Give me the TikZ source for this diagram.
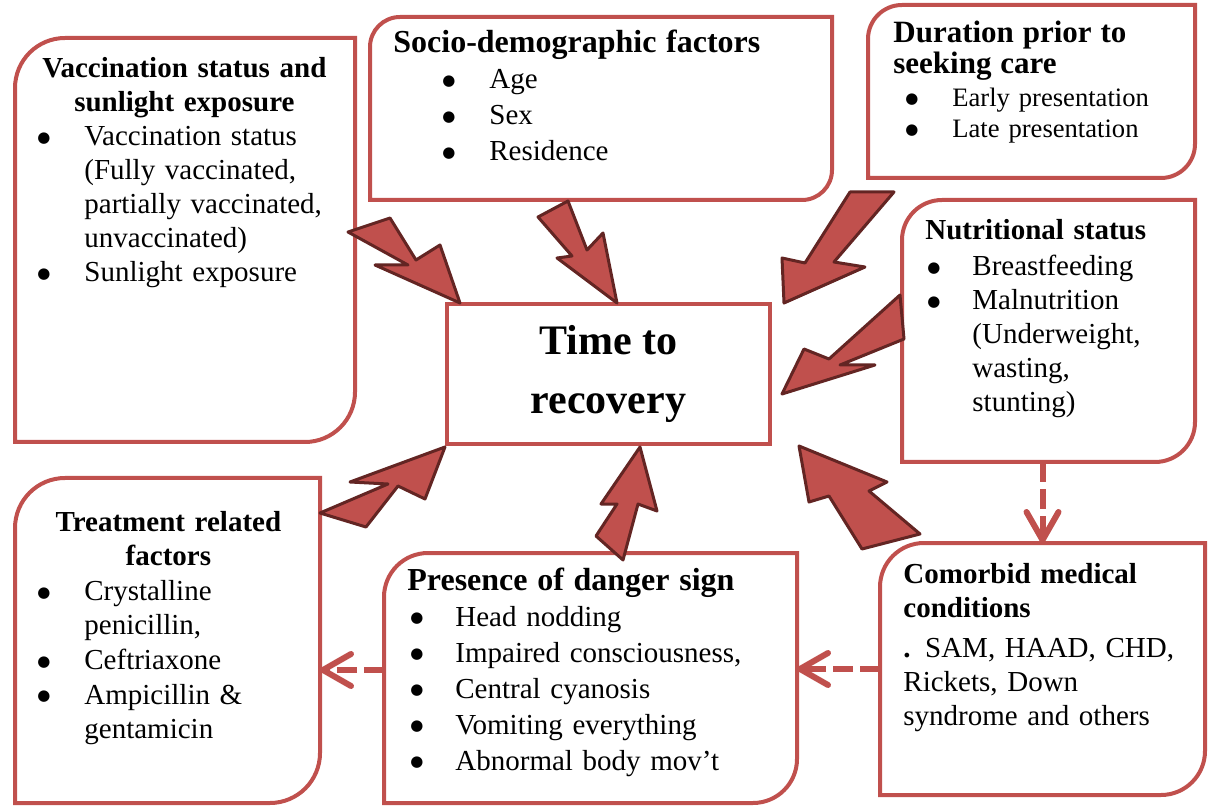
\documentclass[tikz,border=0pt]{standalone}
\usepackage{fontspec}
\setmainfont{Liberation Serif}
\newfontfamily\dotfont{DejaVu Sans}
\usetikzlibrary{arrows.meta,positioning}
\definecolor{BoxRed}{HTML}{C0504D}
\definecolor{ArrowDark}{HTML}{632523}
\newcommand\bul[1][23.5pt]{\makebox[#1][l]{\raisebox{1.6pt}{\dotfont\fontsize{7.5}{7.5}\selectfont ●}}}
\newcommand\ind[1][23.5pt]{\hspace*{#1}}
\tikzset{
  factorbox/.style={
    rectangle,
    inner sep=0pt,
    outer sep=0pt
  },
  boxline/.style={
    draw=BoxRed,
    line width=2pt
  },
  hubbox/.style={
    draw=BoxRed,
    line width=2pt,
    minimum width=161.5pt,
    minimum height=70pt,
    align=center,
    font=\fontsize{21}{29.5}\selectfont\bfseries
  },
  factortext/.style={
    anchor=base west,
    inner sep=0pt,
    align=left,
    font=\fontsize{14.5}{17}\selectfont
  },
  bigarrow/.style={
    fill=BoxRed,
    draw=ArrowDark,
    line width=1.5pt,
    line join=round
  },
  dasharrow/.style={
    -{Straight Barb[length=14pt,width=16pt,round]},
    draw=BoxRed,
    line width=3pt,
    dash pattern=on 10pt off 3.5pt
  }
}

\begin{document}
\begin{tikzpicture}[x=0.5pt, y=-0.5pt]
\useasboundingbox (0,0) rectangle (1210,807);

\node[factorbox, minimum width=170pt, minimum height=202pt] (vacc) at (185,240) {};
\node[factorbox, minimum width=231pt, minimum height=91.5pt] (socio) at (601,108.5) {};
\node[factorbox, minimum width=163.5pt, minimum height=86.5pt] (durat) at (1031.5,91.5) {};
\node[factorbox, minimum width=146.5pt, minimum height=131pt] (nutri) at (1048.5,331) {};
\node[factorbox, minimum width=152.5pt, minimum height=162.5pt] (treat) at (167.5,640.5) {};
\node[factorbox, minimum width=206.5pt, minimum height=125pt] (danger) at (590.5,678) {};
\node[factorbox, minimum width=162.5pt, minimum height=126pt] (comorb) at (1042.5,669) {};
\node[hubbox] (hub) at (608.5,374) {Time to\\recovery};

\foreach \b/\r in {vacc/25pt, socio/15pt, durat/17pt, nutri/20pt, treat/25pt, danger/22pt, comorb/22pt}
  \draw[boxline] ([yshift=-\r]\b.north west) arc[start angle=180, end angle=90, radius=\r]
    -- (\b.north east) -- ([yshift=\r]\b.south east) arc[start angle=0, end angle=-90, radius=\r]
    -- (\b.south west) -- cycle;

\node[factortext, text width=147pt] (vacctext) at (37,78) {%
\makebox[\linewidth]{\bfseries Vaccination status and}\\
\makebox[\linewidth]{\bfseries sunlight exposure}\\
\bul Vaccination status\\
\ind(Fully vaccinated,\\
\ind partially vaccinated,\\
\ind unvaccinated)\\
\bul Sunlight exposure};

\node[factortext, text width=220pt, font=\fontsize{14.5}{18}\selectfont] (sociotext) at (393,53) {%
{\fontsize{16}{18}\selectfont\bfseries Socio-demographic factors}\\
\ind[24.5pt]\bul Age\\
\ind[24.5pt]\bul Sex\\
\ind[24.5pt]\bul Residence};

\node[factortext, text width=150pt, font=\fontsize{13.3}{15.5}\selectfont] (durattext) at (893,43) {%
{\fontsize{15.5}{15.5}\selectfont\bfseries Duration prior to}\\
{\fontsize{15.5}{15.5}\selectfont\bfseries seeking care}\\[1pt]
\ind[6pt]\bul Early presentation\\
\ind[6pt]\bul Late presentation};

\node[factortext, text width=135pt] (nutritext) at (925,240) {%
\textbf{Nutritional status}\\[1pt]
\ind[1pt]\bul[22.5pt]Breastfeeding\\
\ind[1pt]\bul[22.5pt]Malnutrition\\
\ind(Underweight,\\
\ind wasting,\\
\ind stunting)};

\node[factortext, text width=131pt, font=\fontsize{14.5}{17.3}\selectfont] (treattext) at (37,531) {%
\makebox[\linewidth]{\bfseries Treatment related}\\
\makebox[\linewidth]{\bfseries factors}\\
\bul Crystalline\\
\ind penicillin,\\
\bul Ceftriaxone\\
\bul Ampicillin \&\\
\ind gentamicin};

\node[factortext, text width=200pt, font=\fontsize{14.5}{18}\selectfont] (dangertext) at (407,590) {%
{\fontsize{16}{18}\selectfont\bfseries Presence of danger sign}\\
\ind[1.5pt]\bul[22.5pt]Head nodding\\
\ind[1.5pt]\bul[22.5pt]Impaired consciousness,\\
\ind[1.5pt]\bul[22.5pt]Central cyanosis\\
\ind[1.5pt]\bul[22.5pt]Vomiting everything\\
\ind[1.5pt]\bul[22.5pt]Abnormal body mov’t};

\node[factortext, text width=150pt] (comorbtext) at (903,583) {%
\textbf{Comorbid medical}\\
\textbf{conditions}\\[3pt]
{\bfseries .} SAM, HAAD, CHD,\\
Rickets, Down\\
syndrome and others};

\draw[bigarrow, shift={(hub.north west)}] (-97,-70) -- (-55,-84) -- (-29,-42) -- (-5,-57) -- (15,1) -- (-70,-37) -- (-37,-37) -- cycle;
\draw[bigarrow, shift={(hub.north)}] (-70.5,-85) -- (-40.5,-101) -- (-21.5,-52) -- (-5.5,-69) -- (8.5,1) -- (-51.5,-44) -- (-36.5,-46) -- cycle;
\draw[bigarrow, shift={(hub.north east)}] (78,-110) -- (122,-110) -- (62,-40) -- (93,-35) -- (12,1) -- (10,-44) -- (33,-39) -- cycle;
\draw[bigarrow, shift={(hub.east)}] (128,-79) -- (57,-15) -- (32,-25) -- (10,20) -- (103,-9) -- (68,-9) -- (132,-35) -- cycle;
\draw[bigarrow, shift={(hub.south east)}] (27,0) -- (115,36) -- (97,45) -- (148,88) -- (90,103) -- (57,50) -- (37,56) -- cycle;
\draw[bigarrow, shift={(hub.south west)}] (0,1) -- (-20,53) -- (-47,40) -- (-79,81) -- (-125,67) -- (-57,38) -- (-95,36) -- cycle;
\draw[bigarrow, shift={(hub.south)}] (-12.5,90) -- (8.5,58) -- (-7.5,58) -- (31.5,1) -- (48.5,65) -- (29.5,58) -- (14.5,114) -- cycle;

\draw[dasharrow] (comorb.north |- nutri.south) -- (comorb.north);
\draw[dasharrow] (comorb.west) -- (comorb.west -| danger.east);
\draw[dasharrow] ([yshift=4pt]danger.west) -- ([yshift=4pt]danger.west -| treat.east);
\end{tikzpicture}
\end{document}
